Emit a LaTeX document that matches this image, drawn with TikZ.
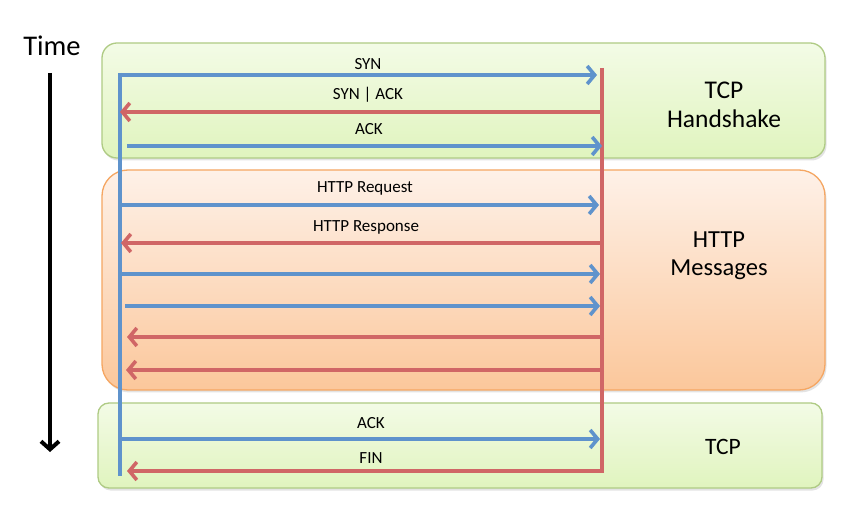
\documentclass[tikz,border=0pt]{standalone}
\usepackage{fontspec}
\setmainfont{Carlito}
\usetikzlibrary{arrows.meta,shadows}
\definecolor{msgblue}{HTML}{5F93CC}
\definecolor{msgred}{HTML}{D06666}
\definecolor{grtop}{HTML}{F3FBE6}
\definecolor{grbot}{HTML}{E0F4BE}
\definecolor{grline}{HTML}{AFCB84}
\definecolor{ortop}{HTML}{FEF1E8}
\definecolor{orbot}{HTML}{FBC79B}
\definecolor{orline}{HTML}{F5A662}
\tikzset{
  phasebox/.style={draw=#1line, line width=1.3pt, top color=#1top, bottom color=#1bot,
    drop shadow={opacity=0.22, shadow xshift=1.5pt, shadow yshift=-2.5pt}},
  tomsg/.style={draw=msgblue, line width=3.6pt, -{Straight Barb[length=7.5pt,width=18pt,line width=3.6pt]}},
  frommsg/.style={draw=msgred, line width=3.6pt, -{Straight Barb[length=7.5pt,width=18pt,line width=3.6pt]}},
  msglabel/.style={font=\fontsize{17}{19}\selectfont, inner sep=0pt},
  phaselabel/.style={align=center, inner sep=0pt},
}
\begin{document}
\begin{tikzpicture}[x=1pt,y=-1pt]
\useasboundingbox[fill=white] (0,0) rectangle (854,518);
% phase boxes
\node[phasebox=gr, rounded corners=15pt, minimum width=723pt, minimum height=115pt, inner sep=0pt] (hs) at (463.5,100.5) {};
\node[phasebox=or, rounded corners=26pt, minimum width=723pt, minimum height=220pt, inner sep=0pt] (msgs) at (463.5,280) {};
\node[phasebox=gr, rounded corners=11pt, minimum width=724pt, minimum height=85pt, inner sep=0pt] (fin) at (460,445.5) {};
% phase labels
\node[phaselabel, font=\fontsize{25.5}{29}\selectfont] (hsl) at (724,105) {TCP\\Handshake};
\node[phaselabel, font=\fontsize{24.5}{28}\selectfont] (msgl) at (719,256) {HTTP\\Messages};
\node[phaselabel, font=\fontsize{23.5}{27}\selectfont] (finl) at (723,447) {TCP};
% time
\node[font=\fontsize{28.5}{32}\selectfont, inner sep=0pt] (time) at (52,46) {Time};
\coordinate (t0) at (50,73);
\coordinate (t1) at (50,452);
\draw[line width=4pt, -{Straight Barb[length=8pt,width=18pt,line width=4pt]}] (t0) -- (t1);
% life lines
\coordinate (cTop) at (120,73);
\coordinate (cBot) at (120,476);
\coordinate (sTop) at (602,68);
\coordinate (sBot) at (602,473);
\draw[msgblue, line width=3.6pt] (cTop) -- (cBot);
\draw[msgred, line width=3.4pt] (sTop) -- (sBot);
% messages
\coordinate (a1) at (120,75);  \coordinate (b1) at (597,75);
\coordinate (a2) at (602,112); \coordinate (b2) at (120,112);
\coordinate (a3) at (127,146); \coordinate (b3) at (602,146);
\coordinate (a4) at (122,205); \coordinate (b4) at (599,205);
\coordinate (a5) at (602,243); \coordinate (b5) at (121,243);
\coordinate (a6) at (122,274); \coordinate (b6) at (600,274);
\coordinate (a7) at (125,306); \coordinate (b7) at (600,306);
\coordinate (a8) at (604,337); \coordinate (b8) at (127,337);
\coordinate (a9) at (604,370); \coordinate (b9) at (126,370);
\coordinate (a10) at (122,439); \coordinate (b10) at (600,439);
\coordinate (a11) at (602,471); \coordinate (b11) at (127,471);
\draw[tomsg] (a1) -- (b1);
\draw[frommsg] (a2) -- (b2);
\draw[tomsg] (a3) -- (b3);
\draw[tomsg] (a4) -- (b4);
\draw[frommsg] (a5) -- (b5);
\draw[tomsg] (a6) -- (b6);
\draw[tomsg] (a7) -- (b7);
\draw[frommsg] (a8) -- (b8);
\draw[frommsg] (a9) -- (b9);
\draw[tomsg] (a10) -- (b10);
\draw[frommsg] (a11) -- (b11);
% labels
\node[msglabel] (l1) at (368,64) {SYN};
\node[msglabel] (l2) at (368,95) {SYN | ACK};
\node[msglabel] (l3) at (369,129) {ACK};
\node[msglabel] (l4) at (365,188) {HTTP Request};
\node[msglabel] (l5) at (366,227) {HTTP Response};
\node[msglabel] (l10) at (371,423) {ACK};
\node[msglabel] (l11) at (371,458) {FIN};
\end{tikzpicture}
\end{document}
